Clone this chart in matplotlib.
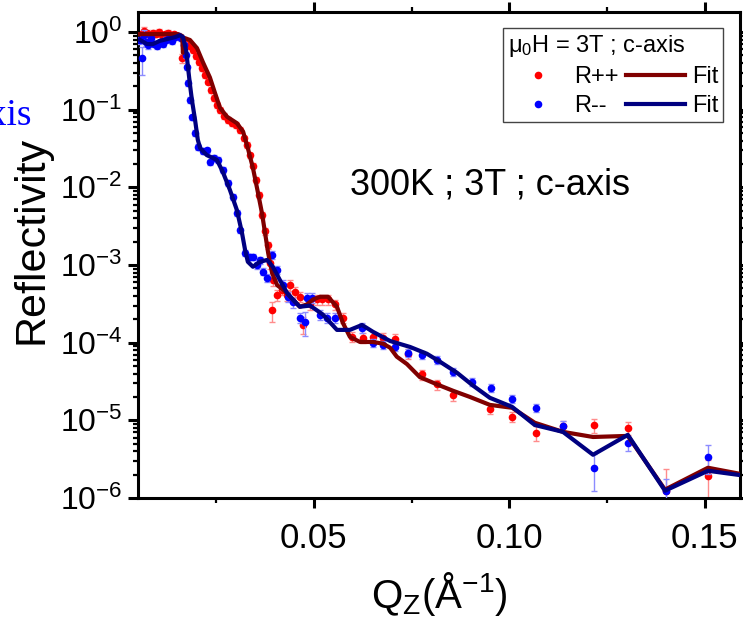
import numpy as np
import matplotlib.pyplot as plt
from matplotlib.ticker import LogLocator, MultipleLocator, FuncFormatter, NullFormatter
from matplotlib.lines import Line2D

plt.rcParams["font.family"] = ["Liberation Sans", "DejaVu Sans"]
plt.rcParams["mathtext.fontset"] = "custom"
plt.rcParams["mathtext.rm"] = "Liberation Sans"
plt.rcParams["mathtext.it"] = "Liberation Sans:italic"
plt.rcParams["mathtext.bf"] = "Liberation Sans:bold"

# R++ measured reflectivity
q_pp = [0.0058, 0.0065, 0.0073, 0.0081, 0.0088, 0.0096, 0.0104, 0.0111, 0.0119, 0.0127,
        0.0134, 0.0142, 0.0150, 0.0157, 0.0163, 0.0168, 0.0175, 0.0183, 0.0191, 0.0198,
        0.0206, 0.0214, 0.0221, 0.0229, 0.0237, 0.0244, 0.0252, 0.0260, 0.0270, 0.0280,
        0.0290, 0.0301, 0.0311, 0.0321, 0.0329, 0.0336, 0.0344, 0.0352, 0.0359, 0.0367,
        0.0375, 0.0383, 0.0388, 0.0393, 0.0395, 0.0406, 0.0418, 0.0431, 0.0439, 0.0452,
        0.0464, 0.0472, 0.0490, 0.0508, 0.0521, 0.0536, 0.0554, 0.0574, 0.0597, 0.0625,
        0.0651, 0.0677, 0.0707, 0.0741, 0.0776, 0.0815, 0.0856, 0.0950, 0.1007, 0.1068,
        0.1137, 0.1216, 0.1303, 0.1400, 0.1508]
r_pp = [0.94, 1.03, 0.97, 0.91, 0.97, 0.94, 1.00, 0.91, 0.94, 0.97,
        0.91, 0.94, 0.89, 0.86, 0.46, 0.79, 0.74, 0.66, 0.59, 0.49,
        0.41, 0.34, 0.28, 0.23, 0.18, 0.142, 0.115, 0.099, 0.083, 0.074,
        0.067, 0.064, 0.055, 0.043, 0.035, 0.026, 0.019, 0.0125, 0.0080, 0.0044,
        0.0027, 0.0018, 1.06e-3, 2.6e-4, 6.4e-4, 4.1e-4, 4.8e-4, 4.1e-4, 5.5e-4, 4.5e-4,
        3.9e-4, 1.7e-4, 3.1e-4, 3.6e-4, 3.6e-4, 3.6e-4, 3.1e-4, 2.1e-4, 1.19e-4, 1.15e-4,
        1.19e-4, 1.15e-4, 1.12e-4, 7.2e-5, 3.9e-5, 2.9e-5, 2.1e-5, 1.41e-5, 1.11e-5, 6.9e-6,
        8.5e-6, 8.7e-6, 8.0e-6, 1.24e-6, 1.93e-6]
err_pp = [0.08, 0.12, 0.08, 0.08, 0.08, 0.08, 0.08, 0.08, 0.08, 0.08,
          0.08, 0.08, 0.08, 0.08, 0.12, 0.08, 0.08, 0.08, 0.08, 0.08,
          0.08, 0.08, 0.08, 0.08, 0.08, 0.08, 0.08, 0.08, 0.08, 0.08,
          0.08, 0.08, 0.08, 0.08, 0.08, 0.08, 0.08, 0.08, 0.08, 0.08,
          0.1, 0.1, 0.15, 0.3, 0.15, 0.15, 0.15, 0.15, 0.15, 0.15,
          0.15, 0.25, 0.15, 0.15, 0.15, 0.15, 0.15, 0.15, 0.15, 0.15,
          0.15, 0.15, 0.15, 0.15, 0.15, 0.15, 0.15, 0.15, 0.15, 0.22,
          0.15, 0.2, 0.2, 0.9, 0.6]

# R-- measured reflectivity
q_mm = [0.0055, 0.0060, 0.0065, 0.0070, 0.0076, 0.0083, 0.0091, 0.0099, 0.0106, 0.0114,
        0.0122, 0.0129, 0.0137, 0.0145, 0.0152, 0.0160, 0.0168, 0.0173, 0.0175, 0.0178,
        0.0183, 0.0188, 0.0196, 0.0203, 0.0216, 0.0226, 0.0234, 0.0244, 0.0255, 0.0267,
        0.0280, 0.0293, 0.0303, 0.0311, 0.0324, 0.0336, 0.0344, 0.0354, 0.0362, 0.0370,
        0.0380, 0.0393, 0.0406, 0.0421, 0.0434, 0.0446, 0.0464, 0.0477, 0.0482, 0.0495,
        0.0515, 0.0533, 0.0554, 0.0623, 0.0651, 0.0677, 0.0707, 0.0741, 0.0776, 0.0815,
        0.0856, 0.0904, 0.0953, 0.1007, 0.1068, 0.1137, 0.1216, 0.1303, 0.1400, 0.1508]
r_mm = [0.79, 0.46, 0.91, 0.74, 0.68, 0.84, 0.70, 0.66, 0.74, 0.70,
        0.79, 0.84, 0.77, 0.86, 0.89, 0.84, 0.68, 0.51, 0.35, 0.22,
        0.133, 0.080, 0.050, 0.033, 0.029, 0.030, 0.021, 0.024, 0.0225, 0.0167,
        0.0114, 0.0075, 0.0047, 0.0028, 1.43e-3, 1.27e-3, 1.27e-3, 1.0e-3, 1.16e-3, 8.2e-4,
        6.8e-4, 1.35e-3, 8.6e-4, 5.6e-4, 3.9e-4, 3.3e-4, 2.1e-4, 1.85e-4, 3.8e-4, 3.8e-4,
        2.3e-4, 2.1e-4, 2.1e-4, 1.55e-4, 9.9e-5, 9.4e-5, 8.8e-5, 7.4e-5, 7.0e-5, 6.0e-5,
        4.2e-5, 3.1e-5, 2.6e-5, 1.89e-5, 1.45e-5, 8.5e-6, 2.45e-6, 5.1e-6, 1.24e-6, 3.4e-6]
err_mm = [0.1, 0.4, 0.15, 0.1, 0.1, 0.08, 0.08, 0.08, 0.08, 0.08,
          0.08, 0.08, 0.08, 0.08, 0.08, 0.08, 0.08, 0.08, 0.08, 0.08,
          0.08, 0.08, 0.08, 0.08, 0.08, 0.08, 0.08, 0.08, 0.08, 0.08,
          0.08, 0.08, 0.08, 0.08, 0.1, 0.1, 0.1, 0.1, 0.1, 0.1,
          0.12, 0.12, 0.12, 0.15, 0.15, 0.15, 0.15, 0.35, 0.15, 0.15,
          0.15, 0.15, 0.15, 0.15, 0.12, 0.12, 0.12, 0.12, 0.12, 0.12,
          0.12, 0.12, 0.12, 0.12, 0.12, 0.15, 0.5, 0.2, 0.4, 0.4]

# fit curves
q_fit_pp = [0.0055, 0.0106, 0.0152, 0.0163, 0.0165, 0.0168, 0.0183, 0.0201, 0.0216, 0.0234,
            0.0247, 0.0260, 0.0278, 0.0303, 0.0319, 0.0331, 0.0344, 0.0357, 0.0367, 0.0375,
            0.0383, 0.0393, 0.0406, 0.0426, 0.0446, 0.0464, 0.0482, 0.0498, 0.0516, 0.0536,
            0.0559, 0.0574, 0.0592, 0.0618, 0.0651, 0.0677, 0.0695, 0.0712, 0.0738, 0.0771,
            0.0815, 0.0856, 0.0899, 0.0950, 0.1007, 0.1065, 0.1137, 0.1214, 0.1303, 0.1398,
            0.1508, 0.1648]
r_fit_pp = [0.94, 0.94, 0.94, 0.89, 0.54, 0.84, 0.79, 0.62, 0.41, 0.26,
            0.164, 0.105, 0.081, 0.067, 0.052, 0.032, 0.0178, 0.0085, 0.0047, 0.0026,
            1.43e-3, 7.9e-4, 5.5e-4, 4.6e-4, 3.6e-4, 2.9e-4, 3.1e-4, 3.6e-4, 3.9e-4, 3.9e-4,
            2.9e-4, 1.8e-4, 1.19e-4, 1.02e-4, 1.02e-4, 9.7e-5, 8.6e-5, 6.6e-5, 5.3e-5, 3.6e-5,
            2.9e-5, 2.4e-5, 2.0e-5, 1.58e-5, 1.45e-5, 9.3e-6, 7.1e-6, 6.1e-6, 6.3e-6, 1.28e-6,
            2.45e-6, 1.8e-6]
q_fit_mm = [0.0055, 0.0073, 0.0088, 0.0106, 0.0124, 0.0145, 0.0157, 0.0165, 0.0173, 0.0178,
            0.0183, 0.0188, 0.0196, 0.0203, 0.0209, 0.0226, 0.0252, 0.0267, 0.0285, 0.0303,
            0.0316, 0.0324, 0.0331, 0.0344, 0.0362, 0.0380, 0.0395, 0.0413, 0.0431, 0.0446,
            0.0464, 0.0490, 0.0508, 0.0523, 0.0559, 0.0592, 0.0623, 0.0651, 0.0695, 0.0746,
            0.0789, 0.0822, 0.0866, 0.0907, 0.0950, 0.1007, 0.1065, 0.1137, 0.1214, 0.1303,
            0.1398, 0.1508, 0.1648]
r_fit_mm = [0.79, 0.70, 0.70, 0.77, 0.81, 0.86, 0.91, 0.86, 0.59, 0.35,
            0.21, 0.133, 0.074, 0.041, 0.032, 0.026, 0.0225, 0.0158, 0.0093, 0.0051,
            0.0026, 1.56e-3, 1.1e-3, 9.5e-4, 1.1e-3, 1.16e-3, 9.5e-4, 6.4e-4, 4.4e-4, 3.6e-4,
            2.9e-4, 3.0e-4, 2.6e-4, 2.3e-4, 1.46e-4, 1.46e-4, 1.69e-4, 1.38e-4, 1.05e-4, 8.8e-5,
            7.2e-5, 5.7e-5, 4.1e-5, 2.8e-5, 1.95e-5, 1.49e-5, 8.7e-6, 7.1e-6, 3.6e-6, 6.5e-6,
            1.24e-6, 2.24e-6, 1.8e-6]

fig = plt.figure(figsize=(7.43, 6.22), dpi=100)
ax = fig.add_axes([0.1857, 0.1994, 0.8103, 0.7813])

r_pp = np.array(r_pp)
r_mm = np.array(r_mm)
ax.errorbar(q_pp, r_pp, yerr=r_pp * np.array(err_pp), fmt="o", color="#ff0000", ms=5.5,
            mec="none", ecolor="#ff8c8c", elinewidth=1, capsize=2.5, capthick=1, zorder=2)
ax.errorbar(q_mm, r_mm, yerr=r_mm * np.array(err_mm), fmt="o", color="#0000ff", ms=5.5,
            mec="none", ecolor="#8c8cff", elinewidth=1, capsize=2.5, capthick=1, zorder=3)
ax.plot(q_fit_pp, r_fit_pp, "-", color="#800000", lw=3, zorder=4, solid_joinstyle="round")
ax.plot(q_fit_mm, r_fit_mm, "-", color="#000080", lw=3, zorder=5, solid_joinstyle="round")

ax.set_yscale("log")
ax.set_xlim(0.005, 0.159)
ax.set_ylim(1e-6, 1.81)

ax.xaxis.set_major_locator(MultipleLocator(0.05))
ax.xaxis.set_minor_locator(MultipleLocator(0.025))
ax.xaxis.set_major_formatter(FuncFormatter(lambda v, p: "%.2f" % v))
ax.yaxis.set_major_locator(LogLocator(base=10, numticks=10))
ax.yaxis.set_minor_locator(LogLocator(base=10, subs=np.arange(2, 10), numticks=20))
ax.yaxis.set_minor_formatter(NullFormatter())
ax.yaxis.set_major_formatter(FuncFormatter(lambda v, p: r"$\mathregular{10^{%d}}$" % int(round(np.log10(v)))))

for s in ax.spines.values():
    s.set_linewidth(2.2)
ax.tick_params(axis="both", which="major", length=7, width=2.2, direction="out")
ax.tick_params(axis="both", which="minor", length=3.5, width=1.6, direction="out")
ax.tick_params(axis="y", which="both", right=True, labelright=False)
ax.tick_params(axis="x", which="both", top=True, labeltop=False)
ax.tick_params(axis="y", labelsize=23, pad=4)
ax.tick_params(axis="x", labelsize=25, pad=10)

ax.set_ylabel("Reflectivity", fontsize=31)
ax.yaxis.set_label_coords(-0.143, 0.53)
ax.set_xlabel(r"Q$_\mathregular{Z}$(Å$^\mathregular{-1}$)", fontsize=29, va="top")
ax.xaxis.set_label_coords(0.5, -0.148)

ax.text(0.352, 0.644, "300K ; 3T ; c-axis", transform=ax.transAxes, fontsize=26,
        va="center", ha="left")

fig.text(32 / 743, 1 - 125 / 622, "c-axis", color="#0000ff", fontsize=27,
         family="Liberation Serif", ha="right", va="baseline")

handles = [Line2D([], [], ls="none", marker="o", color="#ff0000", ms=5.5, mec="none"),
           Line2D([], [], ls="none", marker="o", color="#0000ff", ms=5.5, mec="none"),
           Line2D([], [], color="#800000", lw=3),
           Line2D([], [], color="#000080", lw=3)]
labels = ["R++", "R--", "Fit", "Fit"]
leg = ax.legend(handles, labels, ncol=2, title="μ$_\\mathregular{0}$H = 3T ; c-axis",
                fontsize=17, title_fontsize=17, handlelength=2.5, handletextpad=0.3,
                columnspacing=0.3, borderpad=0.2, labelspacing=0.3, borderaxespad=0,
                loc="upper right", bbox_to_anchor=(723 / 743, 1 - 28 / 622),
                bbox_transform=fig.transFigure, fancybox=False, framealpha=1,
                edgecolor="#444444")
leg.get_frame().set_linewidth(1.0)
leg._legend_box.align = "left"

fig.savefig("out.png", dpi=100)
